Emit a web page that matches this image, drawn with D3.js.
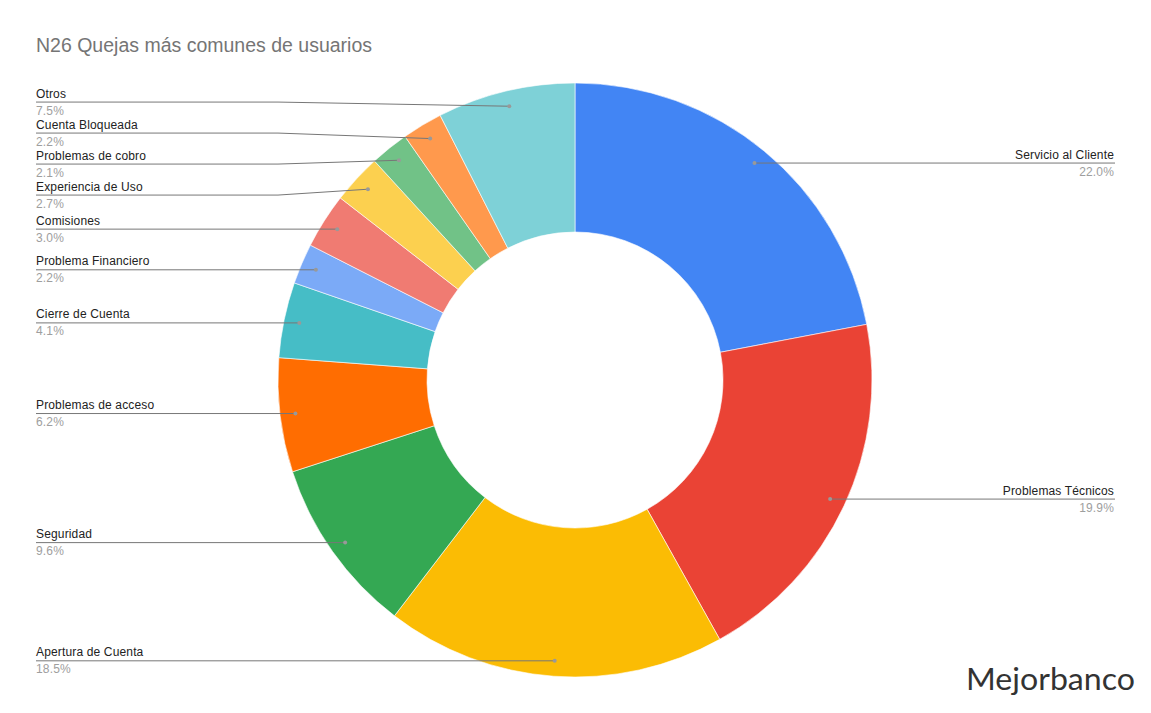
<!DOCTYPE html>
<html><head><meta charset="utf-8">
<script src="https://cdn.jsdelivr.net/npm/d3@7"></script>
<style>body{margin:0;background:#fff}svg{display:block}</style>
</head><body><svg id="c" width="1151" height="713"></svg>
<script>
const categories = ["Servicio al Cliente","Problemas Técnicos","Apertura de Cuenta","Seguridad","Problemas de acceso","Cierre de Cuenta","Problema Financiero","Comisiones","Experiencia de Uso","Problemas de cobro","Cuenta Bloqueada","Otros"];
const values = [22.0,19.9,18.5,9.6,6.2,4.1,2.2,3.0,2.7,2.1,2.2,7.5];
const colors = ["#4285F4","#EA4335","#FBBC04","#34A853","#FF6D01","#46BDC6","#7BAAF7","#F07B72","#FCD04F","#71C287","#FF994D","#7ED1D7"];
const title = "N26 Quejas más comunes de usuarios";

const svg = d3.select("#c");
const cx = 575, cy = 380, R = 297, r0 = 148;

svg.append("text").attr("x",36).attr("y",52).attr("font-family","Liberation Sans, Arial, sans-serif")
  .attr("font-size",19.5).attr("fill","#757575").text(title);

const data = categories.map((c,i)=>({name:c,value:values[i],color:colors[i]}));
const pie = d3.pie().value(d=>d.value).sort(null);
const arcs = pie(data);
const arc = d3.arc().innerRadius(r0).outerRadius(R);
const g = svg.append("g").attr("transform",`translate(${cx},${cy})`);
g.selectAll("path").data(arcs).join("path").attr("d",arc).attr("fill",d=>d.data.color)
  .attr("stroke","#fff").attr("stroke-width",0.6);

const dotR = R*0.948;
const items = arcs.map(a=>{
  const m = (a.startAngle+a.endAngle)/2;
  return {d:a.data, x:cx+dotR*Math.sin(m), y:cy-dotR*Math.cos(m), right: m<Math.PI};
});
function layout(list){
  list.sort((a,b)=>a.y-b.y);
  const gap = 31;
  let groups = list.map(it=>({items:[it], pos:it.y}));
  let changed = true;
  while(changed){
    changed=false;
    for(let i=0;i<groups.length-1;i++){
      const a=groups[i], b=groups[i+1];
      const aEnd = a.pos + (a.items.length-1)*gap;
      if(b.pos - aEnd < gap){
        const all = a.items.concat(b.items);
        const mean = d3.mean(all,d=>d.y);
        const pos = mean - (all.length-1)*gap/2;
        groups.splice(i,2,{items:all,pos:pos});
        changed=true; break;
      }
    }
  }
  groups.forEach(gr=>gr.items.forEach((it,k)=>it.ly=gr.pos+k*gap));
}
const left = items.filter(d=>!d.right), right = items.filter(d=>d.right);
layout(left); layout(right);

const font = "Liberation Sans, Arial, sans-serif";
items.forEach(it=>{
  const lx = it.right ? 1115 : 36;
  const bx = it.right ? cx+R : cx-R;
  const pts = Math.abs(it.ly-it.y)<0.5 ? [[lx,it.ly],[it.x,it.y]] : [[lx,it.ly],[bx,it.ly],[it.x,it.y]];
  svg.append("path").attr("d",d3.line()(pts)).attr("fill","none").attr("stroke","#777").attr("stroke-width",1);
  svg.append("circle").attr("cx",it.x).attr("cy",it.y).attr("r",2).attr("fill","#999");
  const anchor = it.right ? "end" : "start";
  const tx = it.right ? 1114 : 36;
  svg.append("text").attr("x",tx).attr("y",it.ly-4.5).attr("text-anchor",anchor).attr("letter-spacing",0.15)
    .attr("font-family",font).attr("font-size",12).attr("fill","#222").text(it.d.name);
  svg.append("text").attr("x",tx).attr("y",it.ly+12.5).attr("text-anchor",anchor).attr("letter-spacing",0.15)
    .attr("font-family",font).attr("font-size",12).attr("fill","#9e9e9e").text(it.d.value.toFixed(1)+"%");
});

svg.append("text").attr("x",966).attr("y",690).attr("font-family","Lato, sans-serif").attr("font-size",31)
  .attr("fill","#333").attr("textLength",169).attr("lengthAdjust","spacingAndGlyphs").text("Mejorbanco");
</script></body></html>
